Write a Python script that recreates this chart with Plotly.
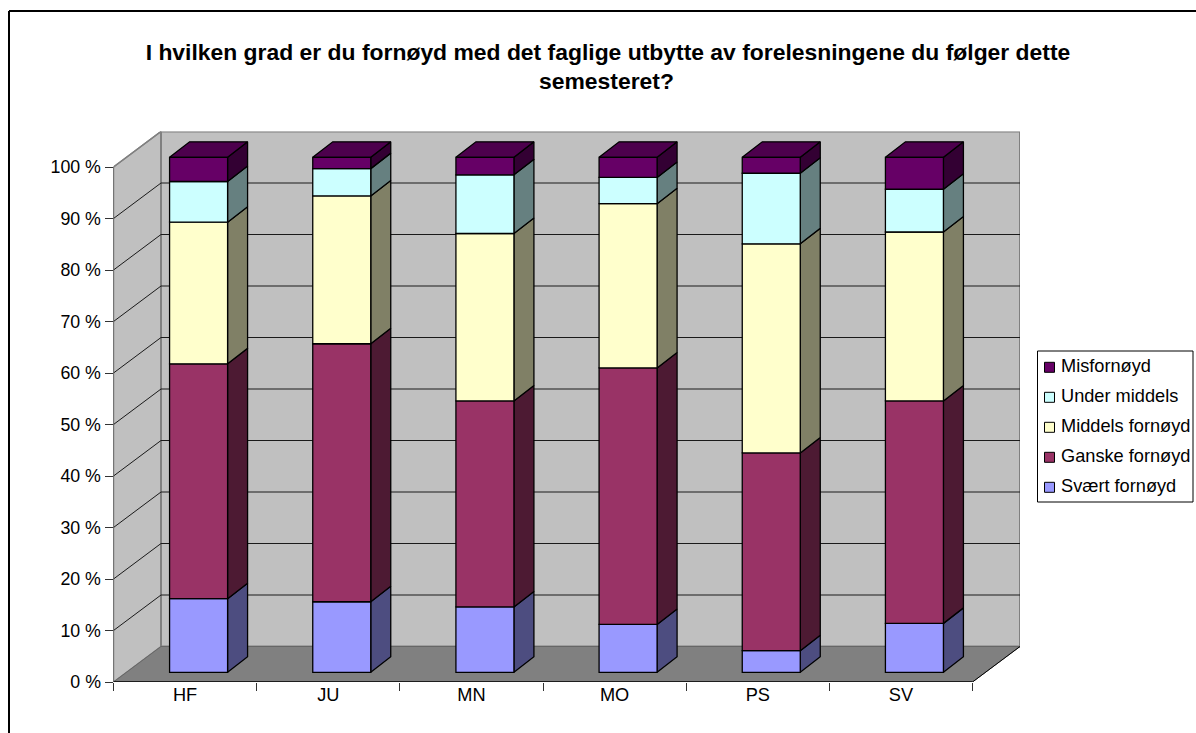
import plotly.graph_objects as go

categories = ["HF", "JU", "MN", "MO", "PS", "SV"]
series_names = ["Svært fornøyd", "Ganske fornøyd", "Middels fornøyd", "Under middels", "Misfornøyd"]
svaert = [14.3, 13.7, 12.7, 9.3, 4.2, 9.5]
ganske = [45.6, 50.1, 40.0, 49.8, 38.4, 43.2]
middels = [27.5, 28.7, 32.5, 31.9, 40.6, 32.8]
under = [7.9, 5.3, 11.4, 5.1, 13.7, 8.3]
mis = [4.7, 2.2, 3.4, 3.9, 3.1, 6.2]
series_values = [svaert, ganske, middels, under, mis]
front_colors = ["#9999FF", "#993366", "#FFFFCC", "#CCFFFF", "#660066"]
side_colors = ["#4D4D80", "#4D1A33", "#808066", "#668080", "#330033"]
top_color = "#4D004D"
y_ticks = list(range(0, 101, 10))
y_labels = [f"{t} %" for t in y_ticks]
title_lines = ["I hvilken grad er du fornøyd med det faglige utbytte av forelesningene du følger dette", "semesteret?"]

W, H = 1196, 733
FONT = "Liberation Sans"
TICK_SIZE = 18.2
TITLE_SIZE = 22.9
# pixel geometry of the chart box
X_L, X_R, Y_0, Y_100 = 113.5, 972.5, 682.0, 167.0
DX_PX, DY_PX = 47.5, 35.5
cat_px = (X_R - X_L) / 6
pct_px = (Y_0 - Y_100) / 100
DX, DY = DX_PX / cat_px, DY_PX / pct_px
BAR_W = 58 / cat_px
BAR_DX, BAR_DY = 13.5 / cat_px, 9.7 / pct_px    # bar front plane offset
BAR_ZX, BAR_ZY = 20 / cat_px, 15.5 / pct_px     # bar depth
x_min, x_max = -0.5, 5.5 + DX
y_top = 100 + DY


def px(x):
    return x / W


def py(y):
    return 1 - y / H


fig = go.Figure()


def poly(xs, ys, fill, line_color, width=1.0):
    fig.add_trace(go.Scatter(
        x=xs + xs[:1], y=ys + ys[:1], mode="lines", fill="toself", fillcolor=fill,
        line=dict(color=line_color, width=width), cliponaxis=False,
        showlegend=False, hoverinfo="skip", xaxis="x", yaxis="y"))


def seg(xs, ys, color, width=1.0):
    fig.add_trace(go.Scatter(
        x=xs, y=ys, mode="lines", line=dict(color=color, width=width), cliponaxis=False,
        showlegend=False, hoverinfo="skip", xaxis="x", yaxis="y"))


# walls and floor
poly([-0.5, -0.5, -0.5 + DX, -0.5 + DX], [0, 100, 100 + DY, DY], "#C0C0C0", "#808080", 1.5)
poly([-0.5 + DX, 5.5 + DX, 5.5 + DX, -0.5 + DX], [DY, DY, 100 + DY, 100 + DY], "#C0C0C0", "#808080", 2)
poly([-0.5, 5.5, 5.5 + DX, -0.5 + DX], [0, 0, DY, DY], "#808080", "#666666", 1)
seg([5.5, 5.5 + DX], [0, DY], "#000000", 1)

# gridlines
for t in y_ticks[1:-1]:
    seg([-0.5, -0.5 + DX, 5.5 + DX], [t, t + DY, t + DY], "#1A1A1A", 1)
seg([-0.5, -0.5 + DX], [100, 100 + DY], "#808080", 1.5)

# depth faces of the bars
for i in range(len(categories)):
    xr = i + BAR_DX + BAR_W / 2
    xl = xr - BAR_W
    cum = BAR_DY
    for vals, sc in zip(series_values, side_colors):
        b, t = cum, cum + vals[i]
        poly([xr, xr, xr + BAR_ZX, xr + BAR_ZX], [b, t, t + BAR_ZY, b + BAR_ZY], sc, "#000000", 1.3)
        cum = t
    poly([xl, xr, xr + BAR_ZX, xl + BAR_ZX], [cum, cum, cum + BAR_ZY, cum + BAR_ZY], top_color, "#000000", 1.3)

# axis lines
seg([-0.5, -0.5], [0, 100], "#333333", 1)
seg([-0.5, 5.5], [0, 0], "#000000", 1.3)

# front faces of the stacked bars
cum = [BAR_DY] * len(categories)
for name, vals, fc in zip(series_names, series_values, front_colors):
    fig.add_trace(go.Bar(
        x=categories, y=vals, base=list(cum), name=name, width=BAR_W,
        offset=BAR_DX - BAR_W / 2, marker=dict(color=fc, line=dict(color="#000000", width=1.3)),
        showlegend=False, xaxis="x2", yaxis="y", cliponaxis=False,
        hovertemplate=name + " %{x}: %{y} %<extra></extra>"))
    cum = [c + v for c, v in zip(cum, vals)]

dom = [px(X_L), px(X_L + (x_max - x_min) * cat_px)]
shapes = [
    dict(type="line", xref="paper", yref="paper", x0=px(9), x1=px(9), y0=py(11), y1=py(733),
         line=dict(color="#000000", width=2)),
    dict(type="line", xref="paper", yref="paper", x0=px(9), x1=px(1196), y0=py(11), y1=py(11),
         line=dict(color="#000000", width=2)),
    dict(type="rect", xref="paper", yref="paper", x0=px(1037.5), x1=px(1193), y0=py(351), y1=py(502),
         line=dict(color="#000000", width=1), fillcolor="#FFFFFF"),
]
annotations = [
    dict(text="<b>" + title_lines[1] + "</b>", xref="paper", yref="paper", x=px(606), y=py(81), showarrow=False,
         xanchor="center", yanchor="middle", font=dict(family=FONT, size=TITLE_SIZE, color="#000000")),
]
for k, (name, fc) in enumerate(zip(series_names[::-1], front_colors[::-1])):
    yc = 367.3 + 30 * k
    shapes.append(dict(type="rect", xref="paper", yref="paper", x0=px(1044.5), x1=px(1054.5),
                       y0=py(yc - 5), y1=py(yc + 5), fillcolor=fc, line=dict(color="#000000", width=1)))
    annotations.append(dict(text=name, xref="paper", yref="paper", x=px(1059), y=py(yc - 1), showarrow=False,
                            xanchor="left", yanchor="middle",
                            font=dict(family=FONT, size=TICK_SIZE, color="#000000")))

fig.update_layout(
    width=W, height=H, autosize=False, margin=dict(l=0, r=0, t=0, b=0, pad=0),
    paper_bgcolor="#FFFFFF", plot_bgcolor="rgba(0,0,0,0)", barmode="overlay", showlegend=False,
    font=dict(family=FONT, size=TICK_SIZE, color="#000000"),
    title=dict(text="<b>" + title_lines[0] + "</b>", x=px(608), xanchor="center", xref="paper",
               y=py(52), yanchor="middle", yref="paper", automargin=False,
               font=dict(family=FONT, size=TITLE_SIZE, color="#000000")),
    xaxis=dict(type="linear", range=[x_min, x_max], domain=dom, showgrid=False, zeroline=False, automargin=False,
               showline=False, showticklabels=False, ticks="", anchor="y"),
    xaxis2=dict(type="category", categoryorder="array", categoryarray=categories, range=[x_min, x_max],
                domain=dom, overlaying="x", anchor="y", side="bottom", showgrid=False, zeroline=False, automargin=False,
                showline=False, ticks="outside", ticklen=8, tickwidth=1, tickcolor="#333333",
                tickson="boundaries", tickfont=dict(family=FONT, size=TICK_SIZE)),
    yaxis=dict(range=[0, y_top], domain=[py(Y_0), py(Y_0 - y_top * pct_px)], showgrid=False, zeroline=False, automargin=False,
               showline=False, tickmode="array", tickvals=y_ticks, ticktext=y_labels, ticks="outside",
               ticklen=8, tickwidth=1, tickcolor="#333333", tickfont=dict(family=FONT, size=17.8)),
    shapes=shapes, annotations=annotations,
)
fig.write_html("out.html", config=dict(displayModeBar=False),
               post_script="document.body.style.margin='0';")
